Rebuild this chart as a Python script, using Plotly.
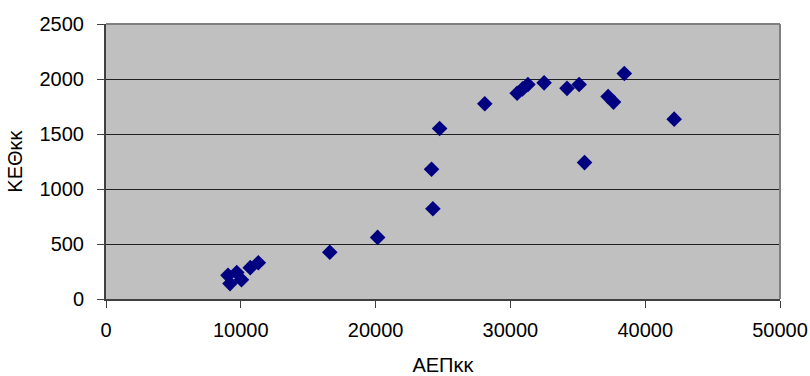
import plotly.graph_objects as go

# GDP per capita (ΑΕΠκκ) against the second indicator (ΚΕΘκκ)
aep_kk = [9050, 9200, 9700, 10050, 10700, 11300, 16600, 20150, 24150, 24250,
          24750, 28100, 30500, 30900, 31300, 32500, 34200, 35100, 35500,
          37250, 37650, 38450, 42150]
keth_kk = [215, 140, 240, 175, 285, 330, 425, 560, 1180, 820,
           1550, 1775, 1870, 1910, 1950, 1965, 1915, 1950, 1240,
           1840, 1790, 2050, 1635]

x_ticks = [0, 10000, 20000, 30000, 40000, 50000]
y_ticks = [0, 500, 1000, 1500, 2000, 2500]

FONT = "Liberation Sans, Arial, sans-serif"

fig = go.Figure(
    go.Scatter(
        x=aep_kk,
        y=keth_kk,
        mode="markers",
        marker=dict(symbol="diamond", size=12, color="#000080",
                    line=dict(width=0)),
        hoverinfo="x+y",
    )
)

fig.update_layout(
    width=810,
    height=376,
    margin=dict(l=106, r=30, t=24, b=77),
    paper_bgcolor="white",
    plot_bgcolor="#C0C0C0",
    showlegend=False,
    font=dict(family=FONT, size=20, color="black"),
    xaxis=dict(
        range=[0, 50000],
        tickvals=x_ticks,
        ticktext=[str(v) for v in x_ticks],
        automargin=False,
        showgrid=False,
        zeroline=False,
        showline=True,
        linecolor="#404040",
        linewidth=2,
        ticks="outside",
        ticklen=7,
        tickcolor="#404040",
        ticklabelstandoff=5,
        title=dict(text="ΑΕΠκκ", font=dict(size=20), standoff=24),
    ),
    yaxis=dict(
        range=[0, 2500],
        tickvals=y_ticks,
        ticktext=[str(v) for v in y_ticks],
        automargin=False,
        showgrid=True,
        gridcolor="#202020",
        gridwidth=1,
        zeroline=False,
        showline=True,
        linecolor="#404040",
        linewidth=2,
        ticks="outside",
        ticklen=7,
        tickcolor="#404040",
        ticklabelstandoff=9,
        title=dict(text="ΚΕΘκκ", font=dict(size=20), standoff=12),
    ),
    shapes=[
        # grey frame along the top and right edges of the plot area
        dict(type="line", xref="paper", yref="paper", x0=0, x1=1, y0=1, y1=1,
             line=dict(color="#808080", width=2), layer="above"),
        dict(type="line", xref="paper", yref="paper", x0=1, x1=1, y0=0, y1=1,
             line=dict(color="#808080", width=2), layer="above"),
    ],
)

fig.write_html("out.html")
